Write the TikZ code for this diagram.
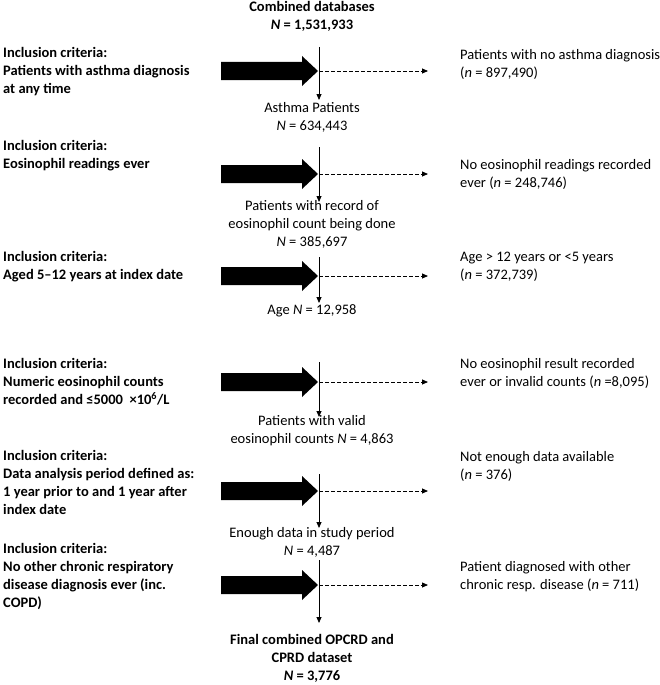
\documentclass[tikz,border=0pt]{standalone}
\usepackage{fontspec}
\setmainfont{Carlito}
\usetikzlibrary{arrows.meta}
\begin{document}
\begin{tikzpicture}[x=1pt,y=-1pt,
  txt/.style={inner sep=0pt, font=\fontsize{14.5}{18}\selectfont},
  lefttxt/.style={inner sep=0pt, anchor=west, align=left, font=\fontsize{14.5}{18}\selectfont\bfseries},
  righttxt/.style={txt, anchor=west, align=left},
  midtxt/.style={txt, align=center},
  midbold/.style={inner sep=0pt, align=center, font=\fontsize{14.5}{18}\selectfont\bfseries},
  blockarrow/.style={fill=black},
  flowline/.style={line width=0.8pt, -{Triangle[length=6pt,width=5pt]}},
  exclline/.style={line width=0.8pt, dash pattern=on 3.5pt off 2.5pt, -{Triangle[length=6pt,width=5pt]}}]
\useasboundingbox (0,0) rectangle (660,685);

\foreach \i/\ay/\vt/\vb in {1/71/47/100, 2/174/147/202, 3/276/257/303, 4/382/362/417, 5/491/474/528, 6/585/560/623}{
  \coordinate (vt\i) at (319,\vt);
  \coordinate (vb\i) at (319,\vb);
  \coordinate (h\i) at (319,\ay);
  \coordinate (e\i) at (428,\ay);
  \fill[blockarrow] (221,{\ay-9}) -- (302,{\ay-9}) -- (302,{\ay-15}) -- (318,\ay) -- (302,{\ay+15}) -- (302,{\ay+9}) -- (221,{\ay+9}) -- cycle;
  \draw[flowline] (vt\i) -- (vb\i);
  \draw[exclline] (h\i) -- (e\i);
}

\node[midbold] (src) at (312,16.5) {Combined databases\\\textit{N} = 1,531,933};

\node[lefttxt] (L1) at (3,72) {Inclusion criteria:\\Patients with asthma diagnosis\\at any time};
\node[righttxt] (R1) at (460,64) {Patients with no asthma diagnosis\\(\textit{n} = 897,490)};
\node[midtxt] (C1) at (312,117) {Asthma Patients\\\textit{N} = 634,443};

\node[lefttxt] (L2) at (3,156) {Inclusion criteria:\\Eosinophil readings ever};
\node[righttxt] (R2) at (460,174) {No eosinophil readings recorded\\ever (\textit{n} = 248,746)};
\node[midtxt] (C2) at (312,224.5) {Patients with record of\\eosinophil count being done\\\textit{N} = 385,697};

\node[lefttxt] (L3) at (3,267) {Inclusion criteria:\\Aged 5–12 years at index date};
\node[righttxt] (R3) at (460,267) {Age > 12 years or <5 years\\(\textit{n} = 372,739)};
\node[midtxt] (C3) at (312,311) {Age \textit{N} = 12,958};

\node[lefttxt] (L4) at (3,382) {Inclusion criteria:\\Numeric eosinophil counts\\recorded and ≤5000 \ ×10\textsuperscript{6}/L};
\node[righttxt] (R4) at (460,373.5) {No eosinophil result recorded\\ever or invalid counts (\textit{n} =8,095)};
\node[midtxt] (C4) at (312,430.5) {Patients with valid\\eosinophil counts \textit{N} = 4,863};

\node[lefttxt] (L5) at (3,482.5) {Inclusion criteria:\\Data analysis period defined as:\\1 year prior to and 1 year after\\index date};
\node[righttxt] (R5) at (460,466) {Not enough data available\\(\textit{n} = 376)};
\node[midtxt] (C5) at (312,542) {Enough data in study period\\\textit{N} = 4,487};

\node[lefttxt] (L6) at (3,577) {Inclusion criteria:\\No other chronic respiratory\\disease diagnosis ever (inc.\\COPD)};
\node[righttxt] (R6) at (460,577) {Patient diagnosed with other\\chronic resp. disease (\textit{n} = 711)};
\node[midbold] (C6) at (312,658) {Final combined OPCRD and\\CPRD dataset\\\textit{N} = 3,776};
\end{tikzpicture}
\end{document}
